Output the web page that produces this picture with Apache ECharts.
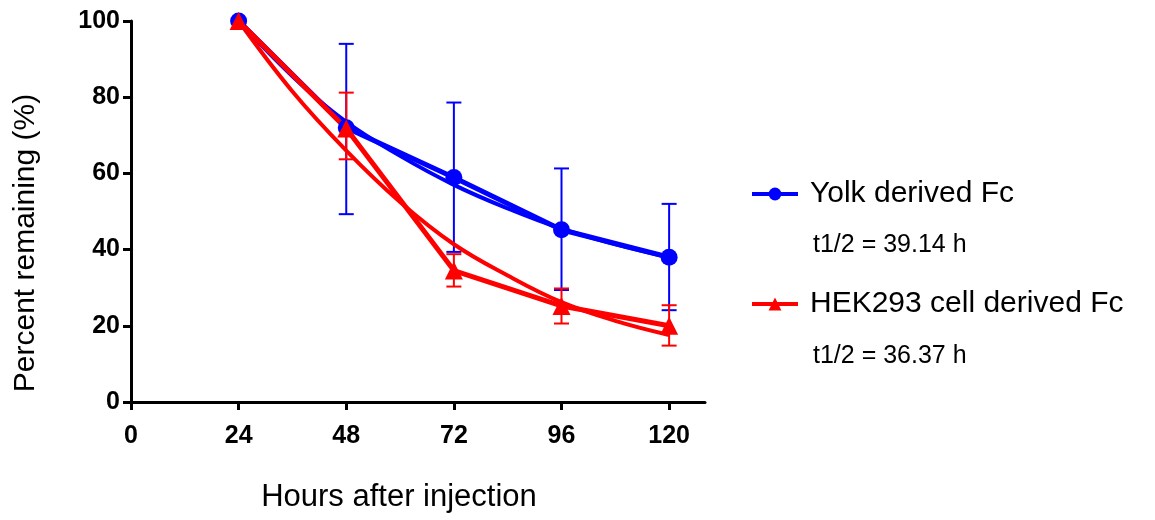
<!DOCTYPE html>
<html>
<head>
<meta charset="utf-8">
<script src="https://cdn.jsdelivr.net/npm/echarts@6/dist/echarts.min.js"></script>
<style>
  html, body { margin: 0; padding: 0; background: #fff; }
  #chart { width: 1155px; height: 520px; }
</style>
</head>
<body>
<div id="chart"></div>
<script>
// hours after injection
const hours = [24, 48, 72, 96, 120]
const xTicks = [0, 24, 48, 72, 96, 120]

// measured means and error bar ends
const yolkMean = [100, 72, 58.9, 45.2, 38]
const yolkHigh = [100, 94, 78.6, 61.3, 52]
const yolkLow = [100, 49.3, 39.4, 29.4, 24.1]

const hekMean = [100, 71.8, 34.5, 25.2, 20]
const hekHigh = [100, 81.2, 38.8, 29.8, 25.4]
const hekLow = [100, 63.7, 30.3, 20.6, 14.8]

// fitted decay curves
const fitHours = [24, 36, 48, 60, 72, 84, 96, 108, 120]
const yolkFit = [100, 85.5, 73.5, 64.6, 57, 50.8, 45.5, 41.4, 38]
const hekFit = [100, 81.5, 66, 52.5, 41.4, 33.2, 26.2, 21.3, 17.6]

const yolkName = 'Yolk derived Fc'
const hekName = 'HEK293 cell derived Fc'
const yolkHalf = 't1/2 = 39.14 h'
const hekHalf = 't1/2 = 36.37 h'
const xTitle = 'Hours after injection'
const yTitle = 'Percent remaining (%)'

const BLUE = '#0000ff'
const RED = '#ff0000'
const font = 'Liberation Sans, Arial, sans-serif'

const pairs = (xs, ys) => xs.map((x, i) => [x, ys[i]])

// error bars drawn through the axis scales
const errorBars = (color, low, high) => ({
  type: 'custom',
  z: 1,
  silent: true,
  data: hours.map((h, i) => [h, low[i], high[i]]),
  renderItem: (params, api) => {
    const lo = api.coord([api.value(0), api.value(1)])
    const hi = api.coord([api.value(0), api.value(2)])
    const cap = 7.5
    const style = { stroke: color, lineWidth: 2 }
    return {
      type: 'group',
      children: [
        { type: 'line', shape: { x1: lo[0], y1: lo[1], x2: hi[0], y2: hi[1] }, style },
        { type: 'line', shape: { x1: lo[0] - cap, y1: lo[1], x2: lo[0] + cap, y2: lo[1] }, style },
        { type: 'line', shape: { x1: hi[0] - cap, y1: hi[1], x2: hi[0] + cap, y2: hi[1] }, style }
      ]
    }
  }
})

const legendBox = (name, top) => ({
  data: [name],
  left: 745,
  top: top,
  itemWidth: 46,
  itemHeight: 16,
  itemGap: 0,
  lineStyle: { width: 4 },
  textStyle: { fontFamily: font, fontSize: 30, color: '#000', padding: [0, 0, 0, 7] }
})

const chart = echarts.init(document.getElementById('chart'))

const option = {
  animation: false,
  grid: {
    left: 131,
    top: 21,
    width: 574,
    height: 381
  },
  xAxis: {
    type: 'value',
    min: 0,
    max: 128,
    interval: 24,
    axisLine: { onZero: false, lineStyle: { color: '#000', width: 3 } },
    axisTick: { customValues: xTicks, length: 8, lineStyle: { color: '#000', width: 3 } },
    axisLabel: {
      customValues: xTicks,
      margin: 22,
      fontFamily: font,
      fontWeight: 'bold',
      fontSize: 25,
      color: '#000'
    },
    splitLine: { show: false }
  },
  yAxis: {
    type: 'value',
    min: 0,
    max: 100,
    interval: 20,
    axisLine: { show: true, lineStyle: { color: '#000', width: 3 } },
    axisTick: { show: true, length: 8, lineStyle: { color: '#000', width: 3 } },
    axisLabel: {
      margin: 11,
      fontFamily: font,
      fontWeight: 'bold',
      fontSize: 25,
      color: '#000'
    },
    splitLine: { show: false }
  },
  legend: [legendBox(yolkName, 174), legendBox(hekName, 284)],
  graphic: [
    {
      type: 'text',
      x: 26,
      y: 243,
      rotation: Math.PI / 2,
      style: { text: yTitle, fontFamily: font, fontSize: 30, fill: '#000', align: 'center', verticalAlign: 'middle' }
    },
    {
      type: 'text',
      x: 399,
      y: 497,
      style: { text: xTitle, fontFamily: font, fontSize: 31, fill: '#000', align: 'center', verticalAlign: 'middle' }
    },
    {
      type: 'text',
      x: 813,
      y: 245,
      style: { text: yolkHalf, fontFamily: font, fontSize: 25, fill: '#000', verticalAlign: 'middle' }
    },
    {
      type: 'text',
      x: 813,
      y: 356,
      style: { text: hekHalf, fontFamily: font, fontSize: 25, fill: '#000', verticalAlign: 'middle' }
    }
  ],
  series: [
    {
      name: yolkName + ' fit',
      type: 'line',
      smooth: 0.4,
      showSymbol: false,
      silent: true,
      z: 2,
      lineStyle: { color: BLUE, width: 4 },
      data: pairs(fitHours, yolkFit)
    },
    {
      name: hekName + ' fit',
      type: 'line',
      smooth: 0.4,
      showSymbol: false,
      silent: true,
      z: 2,
      lineStyle: { color: RED, width: 4 },
      data: pairs(fitHours, hekFit)
    },
    errorBars(BLUE, yolkLow, yolkHigh),
    errorBars(RED, hekLow, hekHigh),
    {
      name: yolkName,
      type: 'line',
      z: 3,
      symbol: 'circle',
      symbolSize: 17,
      lineStyle: { color: BLUE, width: 5 },
      itemStyle: { color: BLUE },
      data: pairs(hours, yolkMean)
    },
    {
      name: hekName,
      type: 'line',
      z: 3,
      symbol: 'triangle',
      symbolSize: 18,
      lineStyle: { color: RED, width: 5 },
      itemStyle: { color: RED },
      data: pairs(hours, hekMean)
    }
  ]
}

chart.setOption(option)
window.addEventListener('resize', () => chart.resize())
</script>
</body>
</html>
